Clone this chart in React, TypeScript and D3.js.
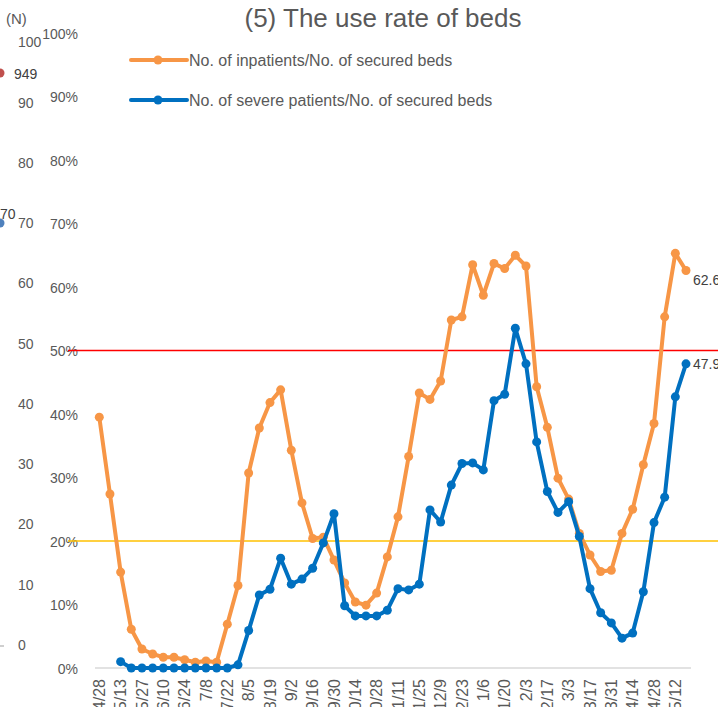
import React from "react";
import * as d3 from "d3";

const dateLabels = ["4/28","5/13","5/27","6/10","6/24","7/8","7/22","8/5","8/19","9/2","9/16","9/30","10/14","10/28","11/11","11/25","12/9","12/23","1/6","1/20","2/3","2/17","3/3","3/17","3/31","4/14","4/28","5/12"];

const inpatientRate = [39.5,27.4,15.1,6.1,3.0,2.2,1.7,1.7,1.3,0.9,1.1,0.9,6.9,13.0,30.7,37.8,41.8,43.8,34.3,26.0,20.4,20.6,17.0,13.4,10.4,9.9,11.8,17.5,23.8,33.3,43.3,42.3,45.2,54.8,55.3,63.5,58.7,63.7,62.9,65.0,63.3,44.3,37.9,29.9,26.6,21.2,17.8,15.2,15.4,21.2,25.0,32.0,38.5,55.3,65.3,62.6];

const severeRate: (number | null)[] = [null,null,1.0,0,0,0,0,0,0,0,0,0,0,0.5,5.9,11.5,12.4,17.3,13.2,14.0,15.7,19.7,24.3,9.8,8.2,8.2,8.2,9.1,12.5,12.3,13.2,24.9,23.0,28.8,32.2,32.3,31.2,42.1,43.1,53.5,47.9,35.6,27.8,24.5,26.2,20.7,12.5,8.7,7.1,4.7,5.5,12.0,22.9,26.9,42.7,47.9];

const pctTicks = [0,10,20,30,40,50,60,70,80,90,100];
const nTicks = [0,10,20,30,40,50,60,70,80,90,100];
const thresholds = [{ v: 50, color: "#FF0000" }, { v: 20, color: "#FFC000" }];

const ORANGE = "#F79646";
const BLUE = "#0070C0";
const TXT = "#595959";
const FONT = "'Liberation Sans', Arial, sans-serif";

export default function App() {
  const x = d3.scaleLinear().domain([0, 55]).range([99.3, 686]);
  const y = d3.scaleLinear().domain([0, 100]).range([668, 33]);
  const yN = d3.scaleLinear().domain([0, 100]).range([645, 42.5]);

  const lineO = d3.line<number>().x((_, i) => x(i)).y((d) => y(d));
  const lineB = d3
    .line<number | null>()
    .defined((d) => d !== null)
    .x((_, i) => x(i))
    .y((d) => y(d as number));

  return (
    <svg width={718} height={707} style={{ position: "absolute", left: 0, top: 0 }} fontFamily={FONT}>
      <rect width={718} height={707} fill="#fff" />
      {/* left remnant axis */}
      <text x={6} y={24} fontSize={15} fill={TXT}>(N)</text>
      {nTicks.map((t) => (
        <text key={"n" + t} x={18} y={yN(t)} dy="0.35em" fontSize={14} fill={TXT}>{t}</text>
      ))}
      <circle cx={0} cy={73} r={4.5} fill="#C0504D" />
      <text x={14} y={74} dy="0.35em" fontSize={14} fill="#404040">949</text>
      <circle cx={0} cy={223} r={4.5} fill="#4F81BD" />
      <text x={0} y={214} dy="0.35em" fontSize={14} fill="#404040">70</text>
      <line x1={0} x2={4} y1={646} y2={646} stroke="#BFBFBF" strokeWidth={1.5} />

      {/* percent axis */}
      {pctTicks.map((t) => (
        <text key={"p" + t} x={78} y={y(t) + 1} dy="0.35em" fontSize={14} fill={TXT} textAnchor="end">{t}%</text>
      ))}
      <line x1={95} x2={691} y1={y(0)} y2={y(0)} stroke="#D9D9D9" strokeWidth={1.5} />

      {/* title */}
      <text x={383} y={27} fontSize={26} fill={TXT} textAnchor="middle">(5) The use rate of beds</text>

      {/* legend */}
      <line x1={131} x2={187} y1={60} y2={60} stroke={ORANGE} strokeWidth={4} strokeLinecap="round" />
      <circle cx={158} cy={60} r={4.5} fill={ORANGE} />
      <text x={189} y={60} dy="0.35em" fontSize={16} fill={TXT}>No. of inpatients/No. of secured beds</text>
      <line x1={131} x2={187} y1={100} y2={100} stroke={BLUE} strokeWidth={4} strokeLinecap="round" />
      <circle cx={158} cy={100} r={4.5} fill={BLUE} />
      <text x={189} y={100} dy="0.35em" fontSize={16} fill={TXT}>No. of severe patients/No. of secured beds</text>

      {/* threshold lines */}
      {thresholds.map((t) => (
        <line key={t.v} x1={68} x2={718} y1={y(t.v)} y2={y(t.v)} stroke={t.color} strokeWidth={1.6} />
      ))}

      {/* x labels */}
      {dateLabels.map((l, k) => (
        <text key={"x" + k} transform={`translate(${x(k * 2)},679) rotate(-90)`} dy="0.35em" fontSize={16} fill={TXT} textAnchor="end">{l}</text>
      ))}

      {/* series */}
      <path d={lineO(inpatientRate) || ""} fill="none" stroke={ORANGE} strokeWidth={4} strokeLinejoin="round" />
      {inpatientRate.map((d, i) => (
        <circle key={"o" + i} cx={x(i)} cy={y(d)} r={4.5} fill={ORANGE} />
      ))}
      <path d={lineB(severeRate) || ""} fill="none" stroke={BLUE} strokeWidth={4} strokeLinejoin="round" />
      {severeRate.map((d, i) =>
        d === null ? null : <circle key={"b" + i} cx={x(i)} cy={y(d)} r={4.5} fill={BLUE} />
      )}

      {/* end labels */}
      <text x={693} y={280} dy="0.35em" fontSize={14} fill="#404040">{inpatientRate[55].toFixed(1)}</text>
      <text x={693} y={364} dy="0.35em" fontSize={14} fill="#404040">{(severeRate[55] as number).toFixed(1)}</text>
    </svg>
  );
}
